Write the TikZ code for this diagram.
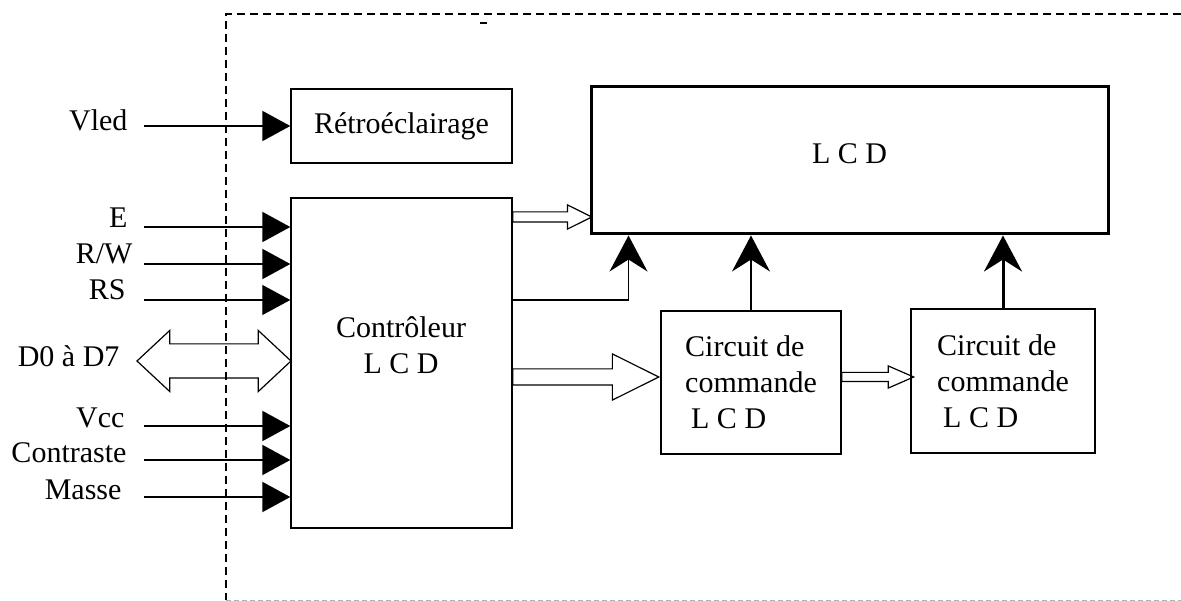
\documentclass[tikz,border=0pt]{standalone}
\usepackage{fontspec}
\setmainfont{Liberation Serif}
\usetikzlibrary{arrows.meta, positioning, shapes.arrows, calc}

\begin{document}
\begin{tikzpicture}[x=1pt, y=-1pt,
    font=\fontsize{30}{36}\selectfont,
    box/.style={draw, rectangle, line width=1.4pt, inner sep=0pt},
    sig/.style={anchor=base east},
    inarrow/.style={-{Triangle[length=28pt, width=30pt]}, line width=2pt},
    uparrow/.style={-{Stealth[length=36pt, width=38pt, inset=12pt]}, line width=1.4pt},
    busarrow/.style={draw, single arrow, line width=1.2pt, inner xsep=0pt, outer sep=0pt, anchor=tail}
]
\useasboundingbox (0,0) rectangle (1181,601);

% Module frame
\draw[line width=1.3pt, dash pattern=on 8pt off 5pt] (1181,14) -- (226,14) -- (226,600);
\draw[gray!60, line width=1pt, dash pattern=on 5pt off 3pt] (226,600) -- (1181,600);
\draw[line width=2pt] (480,23) -- (487,23);

% Nodes
\node[box, minimum width=221pt, minimum height=74pt] (retro) at (401.5,126) {Rétroéclairage};
\node[box, minimum width=221pt, minimum height=330pt] (ctrl) at (401.5,363) {};
\node[align=center] (ctrltxt) at (401,345) {Contrôleur\\L C D};
\node[box, line width=3pt, minimum width=517pt, minimum height=147pt, text depth=14pt] (lcd) at (849.5,160.5) {L C D};
\node[box, align=left, minimum width=180pt, minimum height=143pt] (cmdA) at (751,382.5) {Circuit de\\commande\\\hspace{6pt}L C D};
\node[box, line width=2.5pt, align=left, minimum width=184pt, minimum height=144pt] (cmdB) at (1003,381) {Circuit de\\commande\\\hspace{6pt}L C D};

% Input signals
\coordinate (inVled) at (144,126);
\coordinate (inE) at (144,227);
\coordinate (inRW) at (144,264);
\coordinate (inRS) at (144,300);
\coordinate (inVcc) at (144,426);
\coordinate (inCtr) at (144,460);
\coordinate (inGnd) at (144,497);

\node[sig] (lVled) at (131,131) {Vled};
\node[sig] (lE) at (131,228) {E};
\node[sig] (lRW) at (136,264) {R/W};
\node[sig] (lRS) at (129,300) {RS};
\node[sig] (lVcc) at (128,428) {Vcc};
\node[sig] (lCtr) at (130,462) {Contraste};
\node[sig] (lGnd) at (125,499) {Masse};
\node[sig] (lData) at (123,367) {D0 à D7};

\draw[inarrow] (inVled) -- (inVled -| retro.west);
\draw[inarrow] (inE) -- (inE -| ctrl.west);
\draw[inarrow] (inRW) -- (inRW -| ctrl.west);
\draw[inarrow, line width=1.1pt] (inRS) -- (inRS -| ctrl.west);
\draw[inarrow] (inVcc) -- (inVcc -| ctrl.west);
\draw[inarrow] (inCtr) -- (inCtr -| ctrl.west);
\draw[inarrow] (inGnd) -- (inGnd -| ctrl.west);

% Data bus
\node[draw, double arrow, line width=1.2pt, inner xsep=0pt, inner ysep=16.5pt, minimum height=154pt,
      double arrow head extend=13.5pt, double arrow tip angle=86] (bus) at (214,361) {};

% Wide arrows
\node[busarrow, inner ysep=4.5pt, minimum height=79pt, single arrow head extend=7pt,
      single arrow tip angle=53] (busLcd) at ($(ctrl.east)+(0,-146)$) {};
\node[busarrow, inner ysep=7.5pt, minimum height=146pt, single arrow head extend=15pt,
      single arrow tip angle=53] (busA) at ($(ctrl.east)+(0,14)$) {};
\node[busarrow, inner ysep=4pt, minimum height=72pt, single arrow head extend=6.5pt,
      single arrow tip angle=47] (busB) at ($(cmdA.east)+(0,-5.5)$) {};

% Arrows to the LCD
\draw[uparrow] (ctrl.east |- inRS) -| ($(lcd.south west)+(39,0)$);
\draw[uparrow] (cmdA.north) -- (cmdA.north |- lcd.south);
\draw[uparrow, line width=3pt] (cmdB.north) -- (cmdB.north |- lcd.south);

\end{tikzpicture}
\end{document}
